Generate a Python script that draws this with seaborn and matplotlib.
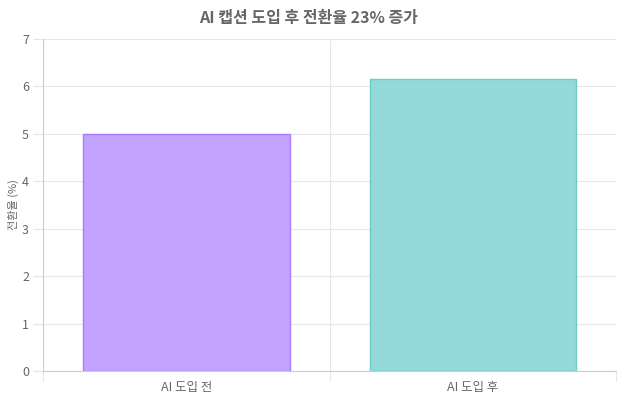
import pandas as pd
import matplotlib.pyplot as plt
import seaborn as sns

categories = ['AI 도입 전', 'AI 도입 후']
conversion = [5.0, 6.15]
fill_colors = ['#c2a3ff', '#93d9d9']
edge_colors = ['#a77dff', '#6ccccc']

df = pd.DataFrame({'stage': categories, 'rate': conversion})

sns.set_theme(style='white')
plt.rcParams['font.family'] = ['Noto Sans CJK KR', 'DejaVu Sans']

fig = plt.figure(figsize=(6.17, 4.0), dpi=100)
ax = fig.add_axes([43 / 617, 29 / 400, 1 - 43 / 617 - 0.001, 332 / 400])

sns.barplot(data=df, x='stage', y='rate', hue='stage', palette=fill_colors,
            width=0.72, legend=False, ax=ax, saturation=1)
for patch, ec in zip(ax.patches, edge_colors):
    patch.set_edgecolor(ec)
    patch.set_linewidth(1)

ax.set_ylim(0, 7)
ax.set_xlim(-0.5, 1.5)
ax.set_yticks(range(0, 8))
ax.set_xticks([-0.5, 0.5, 1.5], minor=True)
ax.grid(axis='y', color='#e6e6e6', linewidth=0.8)
ax.grid(axis='x', which='minor', color='#e6e6e6', linewidth=0.8)
ax.set_axisbelow(True)

ax.tick_params(axis='y', which='major', length=7, width=0.8, color='#e6e6e6',
               labelsize=9, labelcolor='#666666', pad=3, left=True)
ax.tick_params(axis='x', which='major', length=0, labelsize=9,
               labelcolor='#666666', pad=7)
ax.tick_params(axis='x', which='minor', length=7, width=0.8, color='#e6e6e6',
               bottom=True)

for side in ['top', 'right']:
    ax.spines[side].set_visible(False)
ax.spines['left'].set_color('#cccccc')
ax.spines['bottom'].set_color('#cccccc')
ax.spines['left'].set_linewidth(0.8)
ax.spines['bottom'].set_linewidth(0.8)

ax.set_xlabel('')
ax.set_ylabel('전환율 (%)', fontsize=8, color='#666666', labelpad=2)
fig.suptitle('AI 캡션 도입 후 전환율 23% 증가', fontsize=11.5, fontweight='bold',
             color='#666666', y=1 - 18 / 400, va='center')

fig.savefig('out.png', dpi=100)
